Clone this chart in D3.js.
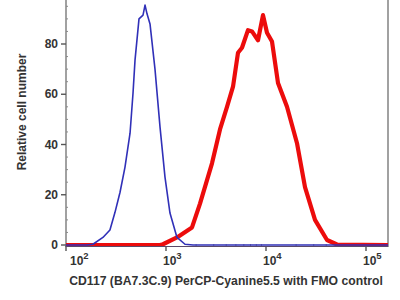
<!DOCTYPE html>
<html>
<head>
<meta charset="utf-8">
<script src="https://cdn.jsdelivr.net/npm/d3@7"></script>
<style>
  body { margin: 0; background: #fff; }
  svg { display: block; }
  text { font-family: "Liberation Sans", Arial, sans-serif; font-weight: bold; fill: #333; }
</style>
</head>
<body>
<svg id="chart" width="400" height="300"></svg>
<script>
// Unstained / FMO control (blue)
const fmoX = [100, 162, 186, 234, 275, 309, 347, 389, 437, 468, 490, 537, 589, 617, 646, 692, 776, 871, 977, 1096, 1288, 1549, 1862, 166000];
const fmoY = [0, 0, 0.3, 3, 6, 13, 21, 31, 44.5, 60.5, 73.6, 90, 91.5, 95.5, 92, 88, 70, 47, 27, 12.7, 3, 0.3, 0, 0];

// CD117 stained (red)
const cd117X = [100, 871, 933, 1288, 1820, 2188, 2884, 3467, 4074, 4677, 5248, 5754, 6607, 7244, 8318, 9333, 10233, 11482, 13183, 16218, 20417, 24547, 30903, 40738, 51286, 166000];
const cd117Y = [0, 0, 0.3, 3, 7, 16.5, 32.5, 46, 55, 63, 76.5, 78.5, 85.5, 85, 81.5, 91.5, 84.5, 81, 64.5, 55, 40.5, 23, 10, 2, 0.2, 0];

const xMajor = [100, 1000, 10000, 100000];
const xExp = ['2', '3', '4', '5'];
const yMajor = [0, 20, 40, 60, 80];

const xTitle = 'CD117 (BA7.3C.9) PerCP-Cyanine5.5 with FMO control';
const yTitle = 'Relative cell number';

const svg = d3.select('#chart');
const plot = { left: 66, right: 388, bottom: 245 };
const axisColor = '#8a8a8a';

const x = d3.scaleLog()
    .domain([100, Math.pow(10, 5.22)])
    .range([plot.left, plot.right]);
const y = d3.scaleLinear()
    .domain([0, 100])
    .range([plot.bottom, plot.bottom - 251.25]);

// frame: left axis + right border
svg.append('line')
    .attr('x1', plot.left).attr('x2', plot.left)
    .attr('y1', 0).attr('y2', plot.bottom + 2)
    .attr('stroke', axisColor).attr('stroke-width', 1.6);
svg.append('line')
    .attr('x1', plot.right).attr('x2', plot.right)
    .attr('y1', 0).attr('y2', plot.bottom + 2)
    .attr('stroke', axisColor).attr('stroke-width', 1.6);

// y ticks (major left, minor every 5)
const yMinor = d3.range(5, 100, 5).filter(v => !yMajor.includes(v));
svg.selectAll('.ymin')
    .data(yMinor)
    .enter().append('line')
    .attr('x1', plot.left).attr('x2', plot.left + 2)
    .attr('y1', d => y(d)).attr('y2', d => y(d))
    .attr('stroke', axisColor).attr('stroke-width', 1);
svg.selectAll('.ymaj')
    .data(yMajor)
    .enter().append('line')
    .attr('x1', plot.left - 5).attr('x2', plot.left)
    .attr('y1', d => y(d)).attr('y2', d => y(d))
    .attr('stroke', '#555').attr('stroke-width', 1.4);
svg.selectAll('.ylab')
    .data(yMajor)
    .enter().append('text')
    .attr('x', plot.left - 8)
    .attr('y', d => y(d) + 4)
    .attr('text-anchor', 'end')
    .attr('font-size', 12)
    .text(d => d);

// x ticks
const xMinor = x.ticks().filter(v => !xMajor.includes(v));
svg.selectAll('.xmin')
    .data(xMinor)
    .enter().append('line')
    .attr('x1', d => x(d)).attr('x2', d => x(d))
    .attr('y1', plot.bottom - 1).attr('y2', plot.bottom + 2)
    .attr('stroke', axisColor).attr('stroke-width', 1);
svg.selectAll('.xmaj')
    .data(xMajor)
    .enter().append('line')
    .attr('x1', d => x(d)).attr('x2', d => x(d))
    .attr('y1', plot.bottom + 1).attr('y2', plot.bottom + 6)
    .attr('stroke', '#555').attr('stroke-width', 1.4);
const xl = svg.selectAll('.xlab')
    .data(xMajor)
    .enter().append('text')
    .attr('x', d => Math.max(x(d) - 3, plot.left + 4))
    .attr('y', 265)
    .attr('font-size', 12);
xl.append('tspan').text('10');
xl.append('tspan')
    .attr('dy', -6)
    .attr('font-size', 9.5)
    .text((d, i) => xExp[i]);

// curves
const line = d3.line()
    .x(d => x(d[0]))
    .y(d => y(d[1]))
    .curve(d3.curveLinear);

svg.append('path')
    .attr('d', line(cd117X.map((v, i) => [v, cd117Y[i]])))
    .attr('fill', 'none')
    .attr('stroke', '#ec0c0c')
    .attr('stroke-width', 4.2)
    .attr('stroke-linejoin', 'round');

svg.append('path')
    .attr('d', line(fmoX.map((v, i) => [v, fmoY[i]])))
    .attr('fill', 'none')
    .attr('stroke', '#3030b8')
    .attr('stroke-width', 1.6)
    .attr('stroke-linejoin', 'round');

// bottom axis line
svg.append('line')
    .attr('x1', plot.left).attr('x2', plot.right)
    .attr('y1', plot.bottom + 1.5).attr('y2', plot.bottom + 1.5)
    .attr('stroke', '#5a4a6a').attr('stroke-width', 1.2);

// titles
svg.append('text')
    .attr('x', 226).attr('y', 285)
    .attr('text-anchor', 'middle')
    .attr('font-size', 12.2)
    .text(xTitle);
svg.append('text')
    .attr('transform', 'translate(26 112) rotate(-90)')
    .attr('text-anchor', 'middle')
    .attr('font-size', 12)
    .text(yTitle);
</script>
</body>
</html>
